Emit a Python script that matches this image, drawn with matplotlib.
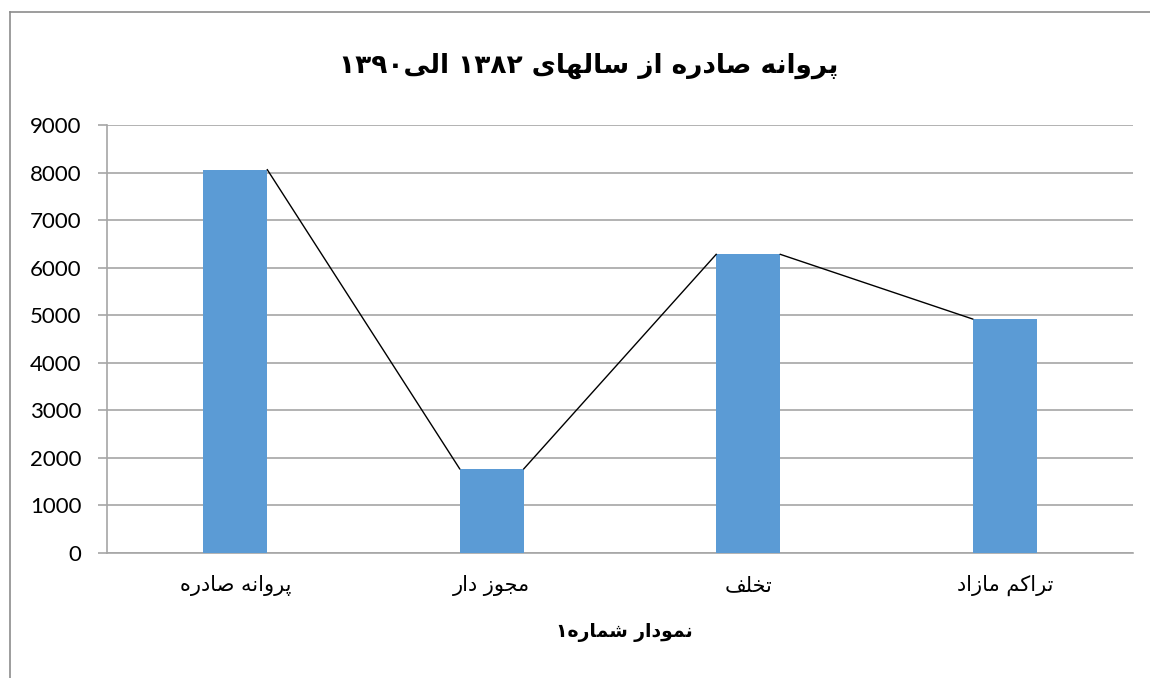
import matplotlib
matplotlib.use("Agg")
import matplotlib.pyplot as plt
from matplotlib.lines import Line2D

# data
categories = ["پروانه صادره", "مجوز دار", "تخلف", "تراکم مازاد"]
values = [8060, 1770, 6280, 4920]
y_ticks = [0, 1000, 2000, 3000, 4000, 5000, 6000, 7000, 8000, 9000]
title_text = "پروانه صادره از سالهای ۱۳۸۲ الی۱۳۹۰"
xlabel_text = "نمودار شماره۱"

BAR_COLOR = "#5B9BD5"
GRID_COLOR = "#A6A6A6"
BAR_WIDTH = 0.25

# matplotlib has no arabic shaping, so pick presentation forms by hand
# (isolated, final, initial, medial); None = letter does not join forward
FORMS = {
    "ا": ("\uFE8D", "\uFE8E", None, None),
    "پ": ("\uFB56", "\uFB57", "\uFB58", "\uFB59"),
    "ت": ("\uFE95", "\uFE96", "\uFE97", "\uFE98"),
    "ج": ("\uFE9D", "\uFE9E", "\uFE9F", "\uFEA0"),
    "خ": ("\uFEA5", "\uFEA6", "\uFEA7", "\uFEA8"),
    "د": ("\uFEA9", "\uFEAA", None, None),
    "ر": ("\uFEAD", "\uFEAE", None, None),
    "ز": ("\uFEAF", "\uFEB0", None, None),
    "س": ("\uFEB1", "\uFEB2", "\uFEB3", "\uFEB4"),
    "ش": ("\uFEB5", "\uFEB6", "\uFEB7", "\uFEB8"),
    "ص": ("\uFEB9", "\uFEBA", "\uFEBB", "\uFEBC"),
    "ف": ("\uFED1", "\uFED2", "\uFED3", "\uFED4"),
    "ک": ("\uFB8E", "\uFB8F", "\uFB90", "\uFB91"),
    "ل": ("\uFEDD", "\uFEDE", "\uFEDF", "\uFEE0"),
    "م": ("\uFEE1", "\uFEE2", "\uFEE3", "\uFEE4"),
    "ن": ("\uFEE5", "\uFEE6", "\uFEE7", "\uFEE8"),
    "ه": ("\uFEE9", "\uFEEA", "\uFEEB", "\uFEEC"),
    "و": ("\uFEED", "\uFEEE", None, None),
    "ی": ("\uFBFC", "\uFBFD", "\uFBFE", "\uFBFF"),
}


def joins_forward(ch):
    return ch in FORMS and FORMS[ch][2] is not None


def shape(text):
    out = []
    for i, ch in enumerate(text):
        if ch not in FORMS:
            out.append(ch)
            continue
        prev = text[i - 1] if i > 0 else ""
        nxt = text[i + 1] if i + 1 < len(text) else ""
        from_prev = joins_forward(prev)
        to_next = joins_forward(ch) and nxt in FORMS
        iso, fin, ini, med = FORMS[ch]
        if from_prev and to_next:
            out.append(med)
        elif from_prev:
            out.append(fin)
        elif to_next:
            out.append(ini)
        else:
            out.append(iso)
    return "".join(out)


def rtl(text):
    shaped = shape(text)
    # split in runs: digits stay left-to-right, the rest is reversed
    runs = []
    for ch in shaped:
        d = ch.isdigit()
        if runs and runs[-1][0] == d:
            runs[-1][1] += ch
        else:
            runs.append([d, ch])
    pieces = [r[1] if r[0] else r[1][::-1] for r in runs]
    return "".join(reversed(pieces))


fig = plt.figure(figsize=(11.5, 6.78), dpi=100)
ax = fig.add_axes([107 / 1150, 1 - 553 / 678, 1026 / 1150, 428 / 678])

x = list(range(len(categories)))
ax.bar(x, values, width=BAR_WIDTH, color=BAR_COLOR, zorder=3)

# series lines from the right top of each bar to the left top of the next
for i in range(len(values) - 1):
    ax.plot([x[i] + BAR_WIDTH / 2, x[i + 1] - BAR_WIDTH / 2],
            [values[i], values[i + 1]], color="black", lw=1.0, zorder=4)

ax.set_xlim(-0.5, len(categories) - 0.5)
ax.set_ylim(0, 9000)
ax.set_yticks(y_ticks)
ax.set_yticklabels([str(v) for v in y_ticks], family="Lato", fontsize=16)
ax.yaxis.grid(True, color=GRID_COLOR, lw=1.2, zorder=0)
ax.tick_params(axis="y", length=6.5, width=1.2, color=GRID_COLOR, pad=12)
ax.tick_params(axis="x", length=0, pad=16)

ax.set_xticks(x)
ax.set_xticklabels([rtl(c) for c in categories], family="DejaVu Sans", fontsize=15)

for side in ["top", "right"]:
    ax.spines[side].set_visible(False)
for side in ["left", "bottom"]:
    ax.spines[side].set_color(GRID_COLOR)
    ax.spines[side].set_linewidth(1.2)

fig.text(589 / 1150, 1 - 66 / 678, rtl(title_text), ha="center", va="center",
         family="DejaVu Sans", fontsize=19, fontweight="bold")
fig.text(624 / 1150, 1 - 632 / 678, rtl(xlabel_text), ha="center", va="center",
         family="DejaVu Sans", fontsize=13.5, fontweight="bold")

# outer chart border (only left and top edges are visible)
fig.add_artist(Line2D([10 / 1150, 10 / 1150], [0, 1 - 12 / 678],
                      transform=fig.transFigure, color="#8C8C8C", lw=1.2))
fig.add_artist(Line2D([10 / 1150, 1], [1 - 12 / 678, 1 - 12 / 678],
                      transform=fig.transFigure, color="#8C8C8C", lw=1.2))

fig.savefig("out.png", dpi=100)
